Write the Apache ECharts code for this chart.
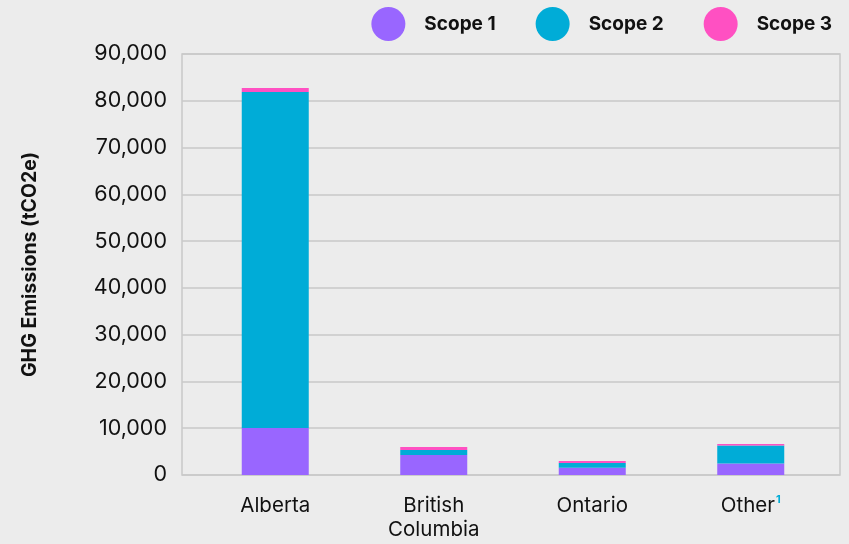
<!DOCTYPE html>
<html>
<head>
<meta charset="utf-8">
<script src="https://cdn.jsdelivr.net/npm/echarts@6/dist/echarts.min.js"></script>
<style>
html,body{margin:0;padding:0;background:#ececec;}
#c{width:849px;height:544px;}
</style>
</head>
<body>
<div id="c"></div>
<script>
const categories = ['Alberta', 'British\nColumbia', 'Ontario', 'Other'];
const scope1 = [10050, 4300, 1550, 2450];
const scope2 = [71850, 1050, 1000, 3850];
const scope3 = [850, 650, 450, 350];
const yTicks = [0, 10000, 20000, 30000, 40000, 50000, 60000, 70000, 80000, 90000];

const FONT = 'Inter, "Noto Sans", sans-serif';
const chart = echarts.init(document.getElementById('c'), null, {renderer: 'canvas'});
const yMax = yTicks[yTicks.length - 1];
const yInt = yTicks[1] - yTicks[0];

chart.setOption({
  backgroundColor: '#ececec',
  animation: false,
  textStyle: {fontFamily: FONT},
  legend: {
    right: 12, top: 2,
    icon: 'circle', itemWidth: 34, itemHeight: 34, itemGap: 40,
    textStyle: {fontFamily: FONT, fontSize: 19, fontWeight: 'bold', color: '#111', padding: [0, 0, 0, 14]},
    data: ['Scope 1', 'Scope 2', 'Scope 3']
  },
  grid: [
    {left: 182, right: 9, top: 54, bottom: 69, show: true, borderColor: '#c8c8c8', borderWidth: 1.5, backgroundColor: 'transparent'},
    {left: 196, right: 19, top: 54, bottom: 69}
  ],
  xAxis: [
    {gridIndex: 0, type: 'value', show: false, min: 0, max: 1},
    {gridIndex: 1, type: 'category', data: categories,
      axisLine: {show: false}, axisTick: {show: false},
      axisLabel: {
        interval: 0,
        fontFamily: FONT, fontSize: 20.5, color: '#111', margin: 19, lineHeight: 24,
        formatter: v => v === 'Other' ? '{a|Other}{s|1}' : v,
        rich: {a: {fontFamily: FONT, fontSize: 20.5, color: '#111'}, s: {fontFamily: FONT, fontSize: 11, color: '#00acd7', fontWeight: 'bold', verticalAlign: 'top', padding: [0, 0, 10, 1]}}
      }
    }
  ],
  yAxis: [
    {gridIndex: 0, type: 'value', min: 0, max: yMax, interval: yInt,
      name: 'GHG Emissions (tCO2e)', nameLocation: 'middle', nameGap: 142,
      nameTextStyle: {fontFamily: FONT, fontSize: 19.5, fontWeight: 'bold', color: '#111'},
      axisLine: {show: false}, axisTick: {show: false},
      axisLabel: {fontFamily: FONT, fontSize: 21.5, color: '#111', margin: 15,
        formatter: v => v.toLocaleString('en-US')},
      splitLine: {lineStyle: {color: '#c8c8c8', width: 1.5}}
    },
    {gridIndex: 1, type: 'value', min: 0, max: yMax, interval: yInt, show: false, splitLine: {show: false}}
  ],
  series: [
    {name: 'Scope 1', type: 'bar', stack: 't', xAxisIndex: 1, yAxisIndex: 1, data: scope1, barWidth: 67, itemStyle: {color: '#9966ff'}},
    {name: 'Scope 2', type: 'bar', stack: 't', xAxisIndex: 1, yAxisIndex: 1, data: scope2, barWidth: 67, itemStyle: {color: '#00acd7'}},
    {name: 'Scope 3', type: 'bar', stack: 't', xAxisIndex: 1, yAxisIndex: 1, data: scope3, barWidth: 67, itemStyle: {color: '#ff50c2'}}
  ]
});
</script>
</body>
</html>
